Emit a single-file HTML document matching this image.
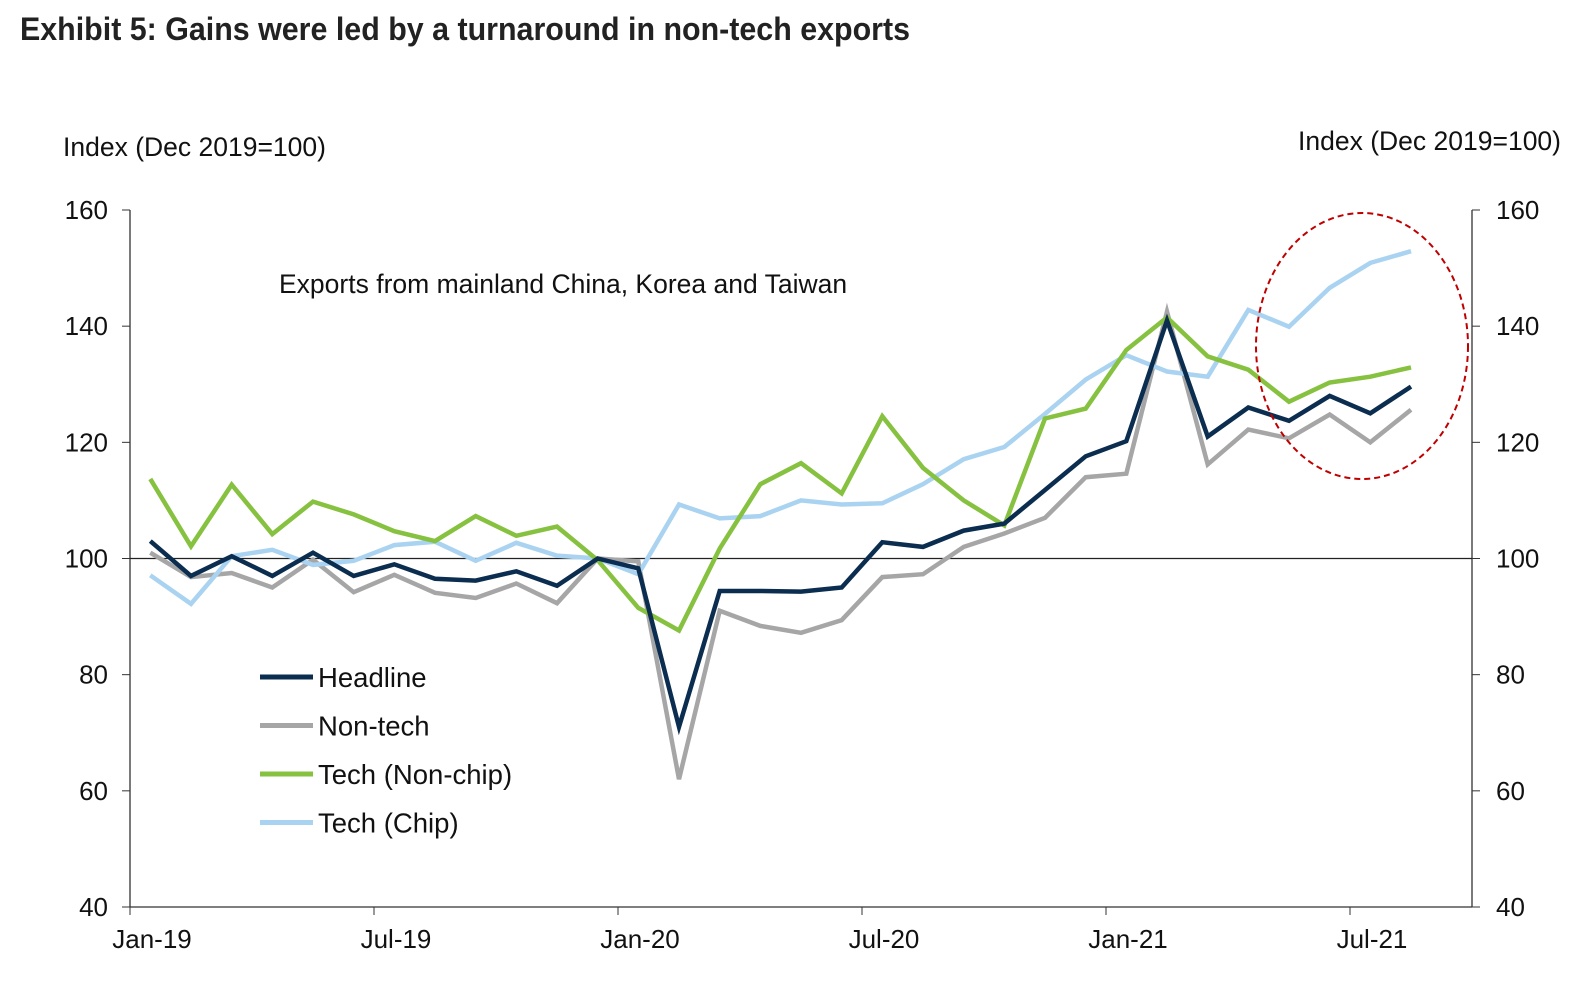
<!DOCTYPE html>
<html><head><meta charset="utf-8"><style>
body{margin:0;background:#fff;}
svg{display:block;font-family:"Liberation Sans",Arial,sans-serif;}
</style></head><body>
<svg id="chart" width="1570" height="996" xmlns="http://www.w3.org/2000/svg">
<text x="20" y="40" font-family="'Liberation Sans Narrow','Liberation Sans',sans-serif" font-weight="bold" font-size="32" fill="#222" textLength="890" lengthAdjust="spacingAndGlyphs">Exhibit 5: Gains were led by a turnaround in non-tech exports</text>
<text x="63" y="156" font-size="26.5" fill="#111">Index (Dec 2019=100)</text>
<text x="1561" y="150" font-size="26.5" fill="#111" text-anchor="end">Index (Dec 2019=100)</text>
<text x="279" y="293" font-size="26.5" fill="#111">Exports from mainland China, Korea and Taiwan</text>
<g id="axes"></g>
<g id="series"></g>
<ellipse cx="1362" cy="346" rx="106" ry="133" fill="none" stroke="#c00000" stroke-width="2" stroke-dasharray="6,4"/>
<g id="legend"></g>
</svg>
<script>
const months = ["Jan-19","Feb-19","Mar-19","Apr-19","May-19","Jun-19","Jul-19","Aug-19","Sep-19","Oct-19","Nov-19","Dec-19","Jan-20","Feb-20","Mar-20","Apr-20","May-20","Jun-20","Jul-20","Aug-20","Sep-20","Oct-20","Nov-20","Dec-20","Jan-21","Feb-21","Mar-21","Apr-21","May-21","Jun-21","Jul-21","Aug-21"];
const headline = [103,97,100.4,97,101,97,99,96.5,96.2,97.8,95.3,100,98.3,71,94.4,94.4,94.3,95,102.8,102,104.8,106,111.8,117.6,120.2,141,121,126,123.7,128,125,129.6];
const nonTech = [101,96.8,97.5,95,99.8,94.2,97.2,94.1,93.2,95.7,92.3,100,99.5,62,91,88.4,87.2,89.4,96.8,97.3,102,104.3,107,114,114.6,142.5,116.2,122.2,120.7,124.8,120,125.6];
const techNonChip = [113.7,102.1,112.7,104.2,109.8,107.6,104.7,103,107.3,103.9,105.5,99.7,91.5,87.6,101.7,112.8,116.4,111.2,124.5,115.6,110,105.7,124.1,125.8,135.9,141.5,134.8,132.5,127,130.3,131.3,132.9];
const techChip = [97.1,92.2,100.4,101.5,98.9,99.6,102.3,102.9,99.6,102.7,100.5,100,97.3,109.3,106.9,107.3,110,109.3,109.5,112.8,117.1,119.2,124.9,130.8,135,132.2,131.3,142.8,139.9,146.6,150.9,152.9];
const yTicks = [40,60,80,100,120,140,160];
const xTickLabels = ["Jan-19","Jul-19","Jan-20","Jul-20","Jan-21","Jul-21"];

const NS="http://www.w3.org/2000/svg";
const L=130,R=1472,T=210,B=907,nCat=33,step=(R-L)/nCat;
const xC=i=>L+step*(i+0.5);
const y=v=>B-(v-40)/120*(B-T);
function mk(tag,attrs,parent,text){const e=document.createElementNS(NS,tag);for(const k in attrs)e.setAttribute(k,attrs[k]);if(text!==undefined)e.textContent=text;parent.appendChild(e);return e;}
const ax=document.getElementById('axes');
let e;
e=mk('line',{x1:L,y1:T,x2:L,y2:B,stroke:'#333','stroke-width':1.3},ax);


e=mk('line',{x1:R,y1:T,x2:R,y2:B,stroke:'#333','stroke-width':1.3},ax);


e=mk('line',{x1:L,y1:B,x2:R,y2:B,stroke:'#333','stroke-width':1.3},ax);


e=mk('line',{x1:L,y1:y(100),x2:R,y2:y(100),stroke:'#222','stroke-width':1.3},ax);


yTicks.forEach(v=>{
  mk('line',{x1:L-8,y1:y(v),x2:L,y2:y(v),stroke:'#333'},ax);
  mk('line',{x1:R,y1:y(v),x2:R+8,y2:y(v),stroke:'#333'},ax);
  e=mk('text',{x:108,y:y(v)+9,'font-size':26,'text-anchor':'end',fill:'#111'},ax,String(v));
  
  
  e=mk('text',{x:1496,y:y(v)+9,'font-size':26,fill:'#111'},ax,String(v));
  
  
});
for(let k=0;k<=nCat;k+=6){
  const xx=L+k*step;
  mk('line',{x1:xx,y1:B,x2:xx,y2:B+8,stroke:'#333'},ax);
}
xTickLabels.forEach((t,j)=>{
  e=mk('text',{x:L+j*6*step+22,y:B+41,'font-size':26,'text-anchor':'middle',fill:'#111'},ax,t);
  
  
});
const sg=document.getElementById('series');
const series=[["non-tech-line",nonTech,"#a6a6a6"],["tech-chip-line",techChip,"#a9d3f0"],["tech-non-chip-line",techNonChip,"#86c140"],["headline-line",headline,"#0b2d4f"]];
series.forEach(s=>{
  const pts=s[1].map((v,i)=>xC(i).toFixed(1)+","+y(v).toFixed(1)).join(" ");
  e=mk('polyline',{points:pts,fill:'none',stroke:s[2],'stroke-width':4.5,'stroke-linejoin':'miter'},sg);
  
  
});
const lg=document.getElementById('legend');
const legendItems=[["Headline","#0b2d4f"],["Non-tech","#a6a6a6"],["Tech (Non-chip)","#86c140"],["Tech (Chip)","#a9d3f0"]];
legendItems.forEach((it,j)=>{
  const yy=677+j*48.5;
  e=mk('line',{x1:260,y1:yy,x2:313,y2:yy,stroke:it[1],'stroke-width':5},lg);
  
  
  e=mk('text',{x:318,y:yy+10,'font-size':27.5,fill:'#111'},lg,it[0]);
  
  
});
</script>
</body></html>
